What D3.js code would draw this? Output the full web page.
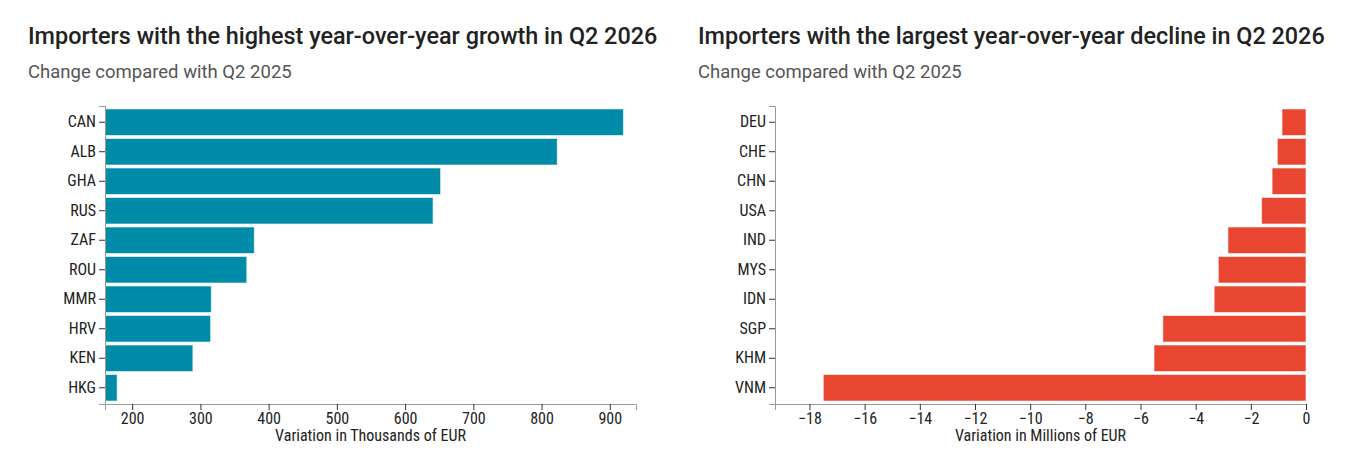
<!DOCTYPE html>
<html>
<head>
<meta charset="utf-8">
<script src="https://cdn.jsdelivr.net/npm/d3@7"></script>
<style>
  body { margin: 0; background: #fff; }
  .tick text, .axis-title { font-family: "Roboto Condensed", "Liberation Sans Narrow", "DejaVu Sans Condensed", sans-serif; font-stretch: condensed; }
</style>
</head>
<body>
<div id="myVis"></div>
<script>
var width = 1371;
var height = 461;

// growth chart, thousands of EUR
var growthCountries = ["CAN", "ALB", "GHA", "RUS", "ZAF", "ROU", "MMR", "HRV", "KEN", "HKG"];
var growthValues = [920, 823, 652, 641, 379, 368, 316, 315, 289, 178];

// decline chart, millions of EUR
var declineCountries = ["DEU", "CHE", "CHN", "USA", "IND", "MYS", "IDN", "SGP", "KHM", "VNM"];
var declineValues = [-0.87, -1.04, -1.23, -1.61, -2.83, -3.18, -3.33, -5.19, -5.51, -17.5];

var titles = ["Importers with the highest year-over-year growth in Q2 2026",
              "Importers with the largest year-over-year decline in Q2 2026"];
var subtitle = "Change compared with Q2 2025";
var axisTitles = ["Variation in Thousands of EUR", "Variation in Millions of EUR"];

var canvas = d3.select("#myVis")
                .append("svg")
                .attr("width", width)
                .attr("height", height);

var plotW = 531;
var plotH = 298;
var marginLeft = 105;
var marginTop = 106;

function drawPanel(offsetX, countries, values, domain, color, title, axisTitle) {
        var panel = canvas.append("g")
                .attr("transform", "translate(" + offsetX + ",0)");

        panel.append("text")
                .attr("x", 28)
                .attr("y", 44)
                .attr("font-family", "Roboto, sans-serif")
                .attr("font-weight", 500)
                .attr("font-size", 23.4)
                .attr("fill", "#222")
                .text(title);

        panel.append("text")
                .attr("x", 28)
                .attr("y", 78)
                .attr("font-family", "Roboto, sans-serif")
                .attr("font-size", 18.5)
                .attr("fill", "#555")
                .text(subtitle);

        var g = panel.append("g")
                .attr("transform", "translate(" + marginLeft + "," + marginTop + ")");

        var x = d3.scaleLinear().domain(domain).range([0, plotW]);
        var y = d3.scaleBand().domain(countries).range([0, plotH]).padding(0.1);
        var base = domain[0] < 0 ? 0 : domain[0];

        g.selectAll("rect")
                .data(values)
                .enter()
                .append("rect")
                .attr("x", function(d) { return x(Math.min(d, base)); })
                .attr("y", function(d, i) { return y(countries[i]); })
                .attr("width", function(d) { return Math.abs(x(d) - x(base)); })
                .attr("height", y.bandwidth())
                .attr("fill", color)
                .attr("stroke", "rgba(255,255,255,0.6)")
                .attr("stroke-width", 1);

        var xAxis = g.append("g")
                .attr("transform", "translate(0," + plotH + ")")
                .call(d3.axisBottom(x).ticks(10));
        var yAxis = g.append("g")
                .call(d3.axisLeft(y));

        [xAxis, yAxis].forEach(function(a) {
                a.select(".domain").attr("stroke", "#999");
                a.selectAll(".tick line").attr("stroke", "#333");
                a.selectAll(".tick text").attr("font-size", 16).attr("fill", "#222");
        });

        g.append("text")
                .attr("class", "axis-title")
                .attr("x", plotW / 2)
                .attr("y", plotH + 37)
                .attr("text-anchor", "middle")
                .attr("font-size", 16)
                .attr("fill", "#222")
                .text(axisTitle);
}

var gMin = d3.min(growthValues), gMax = d3.max(growthValues);
drawPanel(0, growthCountries, growthValues, [gMin * 0.9, gMax * 1.02], "#008ba8", titles[0], axisTitles[0]);

var dMin = d3.min(declineValues);
drawPanel(670, declineCountries, declineValues, [dMin * 1.1, 0], "#e84631", titles[1], axisTitles[1]);
</script>
</body>
</html>
